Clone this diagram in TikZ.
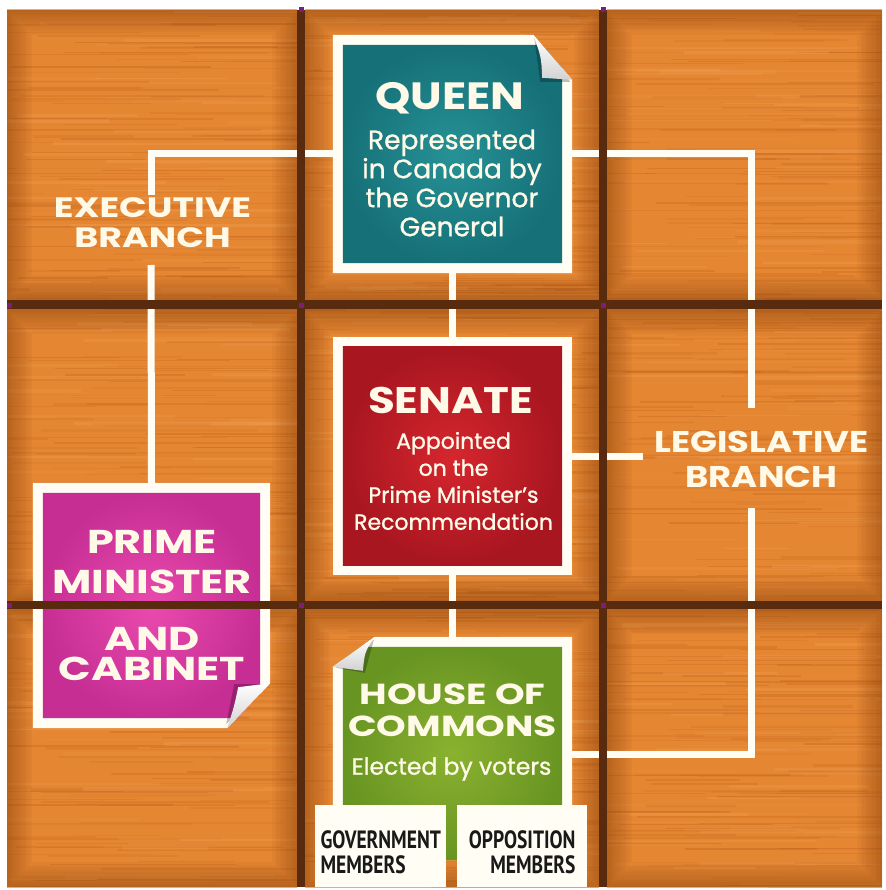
\documentclass[tikz,border=0pt]{standalone}
\usepackage{fontspec}
\setmainfont{Poppins}
\newfontfamily\headfont[FakeStretch=1.18]{Poppins}
\newfontfamily\wideheadfont[FakeStretch=1.3]{Poppins}
\newfontfamily\subfont[FakeBold=1]{Poppins}
\newfontfamily\memberfont[FakeStretch=0.78]{PT Sans}
\usepackage{tikz}
\usetikzlibrary{positioning,calc,backgrounds}
\definecolor{woodbase}{RGB}{228,134,50}
\definecolor{wooddark}{RGB}{188,90,22}
\definecolor{woodlight}{RGB}{244,164,88}
\definecolor{woodedge}{RGB}{118,52,10}
\definecolor{groove}{RGB}{88,42,14}
\definecolor{speck}{RGB}{125,30,120}
\definecolor{paper}{RGB}{255,253,244}
\definecolor{ink}{RGB}{255,250,232}
\definecolor{memberink}{RGB}{25,25,25}
\definecolor{tealhi}{RGB}{38,146,150}
\definecolor{teallo}{RGB}{22,112,120}
\definecolor{redhi}{RGB}{214,38,46}
\definecolor{redlo}{RGB}{168,22,32}
\definecolor{pinkhi}{RGB}{234,74,174}
\definecolor{pinklo}{RGB}{198,46,148}
\definecolor{greenhi}{RGB}{138,178,48}
\definecolor{greenlo}{RGB}{104,148,34}
\pgfdeclarelayer{wood}
\pgfdeclarelayer{grooves}
\pgfsetlayers{wood,background,main,grooves}
\tikzset{
  wire/.style={draw=paper, line width=7pt},
  boxnode/.style={inner sep=0pt, minimum width=239pt, minimum height=238pt},
  headtext/.style={text=ink, inner sep=0pt, align=center, font=\headfont\bfseries\fontsize{#1}{#1}\selectfont},
  subtext/.style={text=ink, inner sep=0pt, align=center, font=\subfont\fontsize{#1}{29}\selectfont},
  memberbox/.style={fill=paper, inner sep=0pt, minimum width=131pt, minimum height=82pt, anchor=north west,
    text=memberink, font=\memberfont\bfseries\fontsize{25}{25}\selectfont},
}

\begin{document}
\begin{tikzpicture}[x=1pt,y=-1pt]
  \useasboundingbox (0,0) rectangle (885,890);
  % wooden tiles
  \begin{pgfonlayer}{wood}
    \fill[white] (0,0) rectangle (885,890);
    \pgfmathsetseed{2024}
    \foreach \tx/\ty/\tw/\th in {7/10/290/290, 305/10/294/290, 607/10/275/290,
                                 7/309/290/292, 305/309/294/292, 607/309/275/292,
                                 7/609/290/278, 305/609/294/278, 607/609/275/278} {
      \fill[woodbase] (\tx,\ty) rectangle ++(\tw,\th);
      \begin{scope}
        \clip (\tx,\ty) rectangle ++(\tw,\th);
        \foreach \g in {1,...,90} {
          \pgfmathsetmacro\gy{\ty+\th*rnd}
          \pgfmathsetmacro\gx{\tx-60+\tw*rnd}
          \pgfmathsetmacro\gl{80+220*rnd}
          \pgfmathsetmacro\gw{0.5+2*rnd}
          \pgfmathsetmacro\go{0.08+0.2*rnd}
          \draw[wooddark, line width=\gw pt, opacity=\go] (\gx,\gy) -- ++(\gl,0);
        }
        \foreach \g in {1,...,40} {
          \pgfmathsetmacro\gy{\ty+\th*rnd}
          \pgfmathsetmacro\gx{\tx-60+\tw*rnd}
          \pgfmathsetmacro\gl{80+220*rnd}
          \pgfmathsetmacro\gw{1+3*rnd}
          \pgfmathsetmacro\go{0.1+0.2*rnd}
          \draw[woodlight, line width=\gw pt, opacity=\go] (\gx,\gy) -- ++(\gl,0);
        }
        % darker tile rims
        \foreach \k in {1,...,10}
          \draw[woodedge, line width=5*\k pt, opacity=0.045] (\tx,\ty) rectangle ++(\tw,\th);
      \end{scope}
    }
  \end{pgfonlayer}

  % boxes
  \node[boxnode] (queen) at (452.5,154) {};
  \node[boxnode] (senate) at (452.5,456) {};
  \node[boxnode, minimum width=237pt, minimum height=245pt] (pm) at (151.5,605.5) {};
  \node[boxnode, minimum height=223pt] (house) at (452.5,748.5) {};

  \begin{scope}[on background layer]
    % queen, curled top right corner
    \fill[paper] (queen.south west) -- (queen.north west) -- ($(queen.north east)+(-39,0)$)
      -- ($(queen.north east)+(0,45)$) -- (queen.south east) -- cycle;
    \shade[inner color=tealhi, outer color=teallo] ($(queen.south west)+(10,-10)$) -- ($(queen.north west)+(10,10)$)
      -- ($(queen.north east)+(-30.3,10)$) -- ($(queen.north east)+(-10,33.5)$) -- ($(queen.south east)+(-10,-10)$) -- cycle;
    \fill[black, opacity=0.25] ($(queen.north east)+(-38,3)$) -- ($(queen.north east)+(-2,47)$)
      -- ($(queen.north east)+(-32,47)$) -- cycle;
    \shade[top color=white, bottom color=gray!35] ($(queen.north east)+(-39,0)$) -- ($(queen.north east)+(0,45)$)
      -- ($(queen.north east)+(-30,43)$) .. controls ($(queen.north east)+(-31,22)$) .. ($(queen.north east)+(-39,0)$) -- cycle;
    % senate
    \fill[paper] (senate.south west) rectangle (senate.north east);
    \shade[inner color=redhi, outer color=redlo] ($(senate.south west)+(10,-10)$) rectangle ($(senate.north east)+(-10,10)$);
    % prime minister, curled bottom right corner
    \fill[paper] (pm.north west) -- (pm.north east) -- ($(pm.south east)+(0,-45)$)
      -- ($(pm.south east)+(-43,0)$) -- (pm.south west) -- cycle;
    \shade[inner color=pinkhi, outer color=pinklo] ($(pm.north west)+(10,10)$) -- ($(pm.north east)+(-10,10)$)
      -- ($(pm.south east)+(-10,-34.5)$) -- ($(pm.south east)+(-33.4,-10)$) -- ($(pm.south west)+(10,-10)$) -- cycle;
    \fill[black, opacity=0.25] ($(pm.south east)+(-3,-44)$) -- ($(pm.south east)+(-44,-4)$)
      -- ($(pm.south east)+(-36,-44)$) -- cycle;
    \shade[top color=white, bottom color=gray!35] ($(pm.south east)+(0,-45)$) -- ($(pm.south east)+(-43,0)$)
      .. controls ($(pm.south east)+(-36,-22)$) .. ($(pm.south east)+(-32,-41)$) -- cycle;
    % house of commons, curled top left corner
    \fill[paper] ($(house.north west)+(42,0)$) -- (house.north east) -- (house.south east)
      -- (house.south west) -- ($(house.north west)+(0,30)$) -- cycle;
    \shade[inner color=greenhi, outer color=greenlo] ($(house.north west)+(28,10)$) -- ($(house.north east)+(-10,10)$)
      -- ($(house.south east)+(-10,0)$) -- ($(house.south west)+(10,0)$) -- ($(house.north west)+(10,22.9)$) -- cycle;
    \fill[black, opacity=0.25] ($(house.north west)+(41,3)$) -- ($(house.north west)+(3,31)$)
      -- ($(house.north west)+(32,36)$) -- cycle;
    \shade[top color=white, bottom color=gray!35] ($(house.north west)+(42,0)$) -- ($(house.north west)+(0,30)$)
      -- ($(house.north west)+(30,34)$) .. controls ($(house.north west)+(32,15)$) .. ($(house.north west)+(42,0)$) -- cycle;
  \end{scope}

  % box texts
  \node[headtext=38] (queentitle) at (450,98) {QUEEN};
  \node[subtext=26.5] (queensub) at (452,183) {Represented\\in Canada by\\the Governor\\General};
  \node[headtext=37] (senatetitle) at (450.5,400) {SENATE};
  \node[subtext=22, font=\subfont\fontsize{22}{27}\selectfont] (senatesub) at (453.5,481) {Appointed\\on the\\Prime Minister’s\\Recommendation};
  \node[headtext=29, font=\wideheadfont\bfseries\fontsize{29}{32}\selectfont] (housetitle) at (452.5,710) {HOUSE OF\\COMMONS};
  \node[subtext=23.5] (housesub) at (451.5,769) {Elected by voters};
  \node[headtext=33, font=\wideheadfont\bfseries\fontsize{33}{30}\selectfont] (pmtext) at (152,605) {PRIME\\[10pt]MINISTER\\[27pt]AND\\CABINET};

  % members
  \node[memberbox, align=left] (gov) at (315,805) {\rule{0pt}{29pt}GOVERNMENT\\MEMBERS};
  \node[memberbox, align=right, minimum width=130pt] (opp) at (457,805) {\rule{0pt}{29pt}OPPOSITION\\MEMBERS};

  % branch labels
  \node[headtext=28, font=\wideheadfont\bfseries\fontsize{28}{30}\selectfont] (exec) at (152.5,223) {EXECUTIVE\\BRANCH};
  \node[headtext=30, font=\headfont\bfseries\fontsize{30}{35}\selectfont] (legis) at (761.5,459) {LEGISLATIVE\\BRANCH};
  \coordinate (exectop) at (151,195);
  \coordinate (execbot) at (151,265);
  \coordinate (legtop) at (751,408);
  \coordinate (legbot) at (751,508);
  \coordinate (legcorner) at (751,754);
  \coordinate (senstub) at (643,456);

  % connectors
  \draw[wire] (queen.west) -| (exectop);
  \draw[wire] (execbot) -- (pm.north);
  \draw[wire] (queen.east) -| (legtop);
  \draw[wire] (senate.east) -- (senstub);
  \draw[wire] (legbot) -- (legcorner) -- (legcorner -| house.east);
  \draw[wire] (queen.south) -- (senate.north);
  \draw[wire] (senate.south) -- (house.north);

  % grooves between tiles
  \begin{pgfonlayer}{grooves}
    \fill[groove] (297,10) rectangle (305,887);
    \fill[groove] (599,10) rectangle (607,887);
    \fill[groove] (7,300) rectangle (882,309);
    \fill[groove] (7,601) rectangle (882,609);
    \foreach \sx/\sy in {301/10, 603/10, 301/305, 603/305, 301/605, 603/605, 9/605, 9/305}
      \fill[speck] (\sx-2.5,\sy-2.5) rectangle (\sx+2.5,\sy+2.5);
  \end{pgfonlayer}
\end{tikzpicture}
\end{document}
